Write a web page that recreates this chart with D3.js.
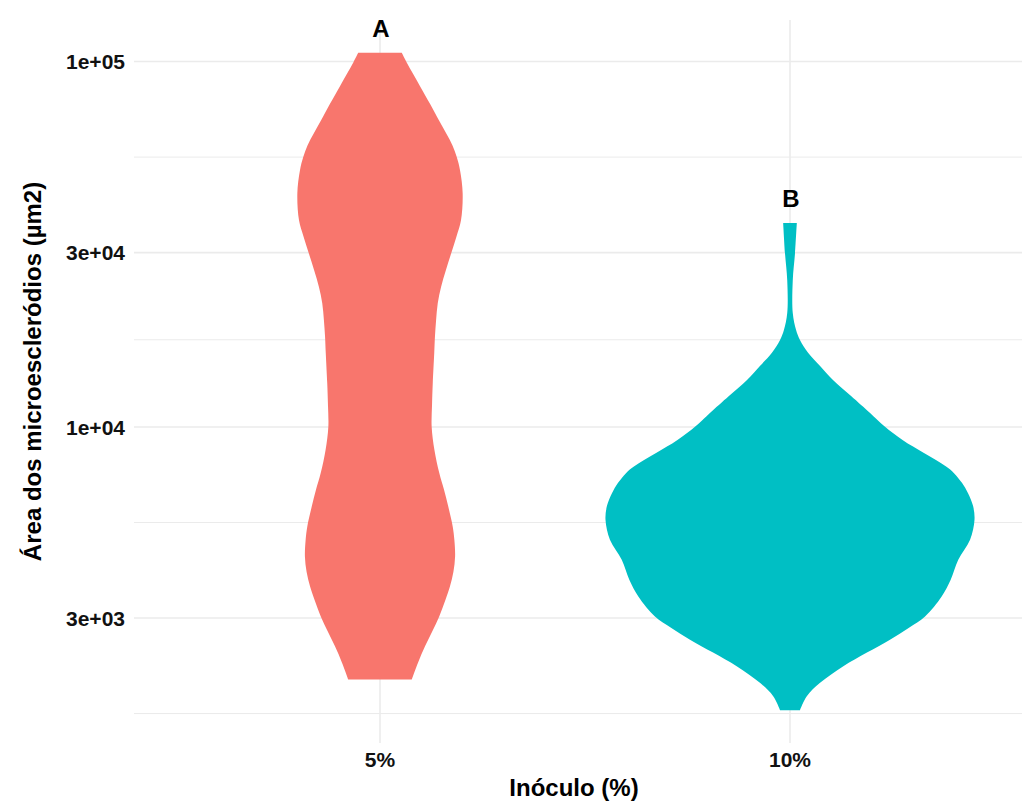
<!DOCTYPE html>
<html>
<head>
<meta charset="utf-8">
<script src="https://cdn.jsdelivr.net/npm/d3@7"></script>
<style>
  html, body { margin: 0; padding: 0; background: #ffffff; }
  svg { display: block; font-family: "Liberation Sans", Arial, sans-serif; }
</style>
</head>
<body>
<svg id="chart" width="1022" height="801"></svg>
<script>
// Inoculum levels and their significance letters
const groups = ["5%", "10%"];
const letters = ["A", "B"];
const fills = ["#F8766D", "#00BFC4"];

// Y axis breaks (log scale)
const yTicks = [3e3, 1e4, 3e4, 1e5];
const yTickLabels = ["3e+03", "1e+04", "3e+04", "1e+05"];

// Kernel density profile of sclerotia area, 5% inoculum (area in µm², relative density)
const area5 = [2036, 2265, 2510, 2771, 3031, 3368, 3661, 4017, 4422, 4913, 5341, 6056, 6728, 7489, 8652,
  10019, 11483, 13190, 15930, 17728, 19600, 21818, 24170, 26853, 29880, 33259, 36780, 43590, 50369,
  54760, 58946, 63442, 69000, 76641, 85090, 92554, 99560, 105630];
const dens5 = [0.172, 0.206, 0.244, 0.285, 0.321, 0.355, 0.379, 0.398, 0.407, 0.403, 0.394, 0.370, 0.347, 0.321, 0.295,
  0.280, 0.282, 0.286, 0.294, 0.298, 0.304, 0.313, 0.331, 0.357, 0.386, 0.415, 0.439, 0.448, 0.434,
  0.416, 0.393, 0.360, 0.320, 0.271, 0.220, 0.179, 0.144, 0.118];

// Kernel density profile of sclerotia area, 10% inoculum
const area10 = [1679, 1833, 1994, 2214, 2413, 2618, 2823, 3031, 3438, 3819, 4330, 4913, 5570, 6083, 6589,
  7031, 7474, 7789, 8124, 8490, 8835, 9215, 9630, 10019, 10450, 10920, 12153, 13440, 14678, 15930,
  17290, 18410, 20490, 25210, 29820, 36150];
const dens10 = [0.054, 0.091, 0.163, 0.289, 0.417, 0.542, 0.645, 0.732, 0.822, 0.871, 0.912, 0.976, 1.000, 0.992, 0.965,
  0.932, 0.889, 0.846, 0.791, 0.726, 0.667, 0.610, 0.558, 0.515, 0.474, 0.434, 0.331, 0.233, 0.163, 0.099,
  0.054, 0.033, 0.015, 0.015, 0.027, 0.037];

const profiles = [
  { group: groups[0], letter: letters[0], fill: fills[0], area: area5, dens: dens5 },
  { group: groups[1], letter: letters[1], fill: fills[1], area: area10, dens: dens10 }
];

const svg = d3.select("#chart");
const panel = { left: 134, right: 1036, top: 20, bottom: 743 };

// Discrete x positions with ggplot-like expansion
const x = d3.scalePoint().domain(groups).range([panel.left, panel.right]).padding(0.6);

// Log y scale expanded 5% beyond the data range
const allArea = area5.concat(area10);
const lo = Math.log10(d3.min(allArea)), hi = Math.log10(d3.max(allArea));
const pad = 0.05 * (hi - lo);
const y = d3.scaleLog()
  .domain([Math.pow(10, lo - pad), Math.pow(10, hi + pad)])
  .range([panel.bottom, panel.top]);

// Violin half-width: densest profile spans 90% of a category step
const maxDens = d3.max(dens5.concat(dens10));
const w = d3.scaleLinear().domain([0, maxDens]).range([0, 0.45 * x.step()]);

// Minor breaks: midpoints between majors (in log space), extended one step each side
const L = yTicks.map(Math.log10);
const ext = [L[0] - (L[1] - L[0])].concat(L, [L[L.length - 1] + (L[L.length - 1] - L[L.length - 2])]);
const [d0, d1] = y.domain().map(Math.log10);
const minor = d3.pairs(ext).map(([a, b]) => (a + b) / 2).filter(v => v >= d0 && v <= d1).map(v => Math.pow(10, v));

const grid = svg.append("g").attr("stroke", "#ebebeb").attr("fill", "none");
grid.selectAll("line.minor").data(minor).join("line")
  .attr("class", "minor")
  .attr("x1", panel.left).attr("x2", panel.right)
  .attr("y1", d => y(d)).attr("y2", d => y(d))
  .attr("stroke-width", 1);
grid.selectAll("line.majory").data(yTicks).join("line")
  .attr("class", "majory")
  .attr("x1", panel.left).attr("x2", panel.right)
  .attr("y1", d => y(d)).attr("y2", d => y(d))
  .attr("stroke-width", 1.6);
grid.selectAll("line.majorx").data(groups).join("line")
  .attr("class", "majorx")
  .attr("x1", d => x(d)).attr("x2", d => x(d))
  .attr("y1", panel.top).attr("y2", panel.bottom)
  .attr("stroke-width", 1.6);

// Violins
const violin = (p) => d3.area()
  .curve(d3.curveCatmullRom.alpha(0.5))
  .y(i => y(p.area[i]))
  .x0(i => x(p.group) - w(p.dens[i]))
  .x1(i => x(p.group) + w(p.dens[i]));

svg.append("g").selectAll("path").data(profiles).join("path")
  .attr("fill", d => d.fill)
  .attr("d", d => violin(d)(d3.range(d.area.length)));

// Significance letters above each violin
svg.append("g").selectAll("text").data(profiles).join("text")
  .attr("x", d => x(d.group) + 1)
  .attr("y", d => y(d3.max(d.area)) - 16)
  .attr("text-anchor", "middle")
  .attr("font-size", 24).attr("font-weight", "bold").attr("fill", "#000")
  .text(d => d.letter);

// Y axis tick labels
svg.append("g").selectAll("text").data(yTicks).join("text")
  .attr("x", panel.left - 9)
  .attr("y", d => y(d))
  .attr("dy", "0.36em")
  .attr("text-anchor", "end")
  .attr("font-size", 21).attr("font-weight", "bold").attr("fill", "#111")
  .text((d, i) => yTickLabels[i]);

// X axis tick labels
svg.append("g").selectAll("text").data(groups).join("text")
  .attr("x", d => x(d))
  .attr("y", 767)
  .attr("text-anchor", "middle")
  .attr("font-size", 21).attr("font-weight", "bold").attr("fill", "#111")
  .text(d => d);

// Axis titles
svg.append("text")
  .attr("x", 574).attr("y", 796)
  .attr("text-anchor", "middle")
  .attr("font-size", 24).attr("font-weight", "bold").attr("fill", "#000")
  .text("Inóculo (%)");

svg.append("text")
  .attr("transform", `translate(41, ${(panel.top + panel.bottom) / 2 - 10}) rotate(-90)`)
  .attr("text-anchor", "middle")
  .attr("font-size", 24).attr("font-weight", "bold").attr("fill", "#000")
  .text("Área dos microescleródios (µm2)");
</script>
</body>
</html>
